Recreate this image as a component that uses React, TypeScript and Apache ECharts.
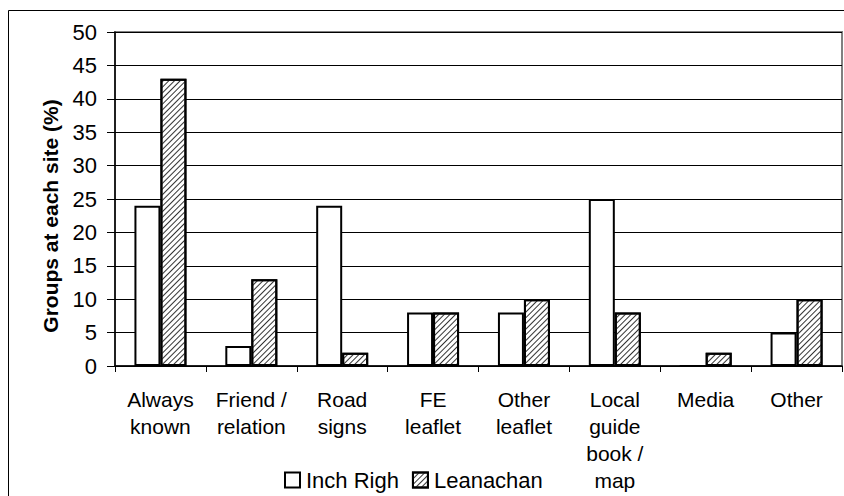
import React, { useEffect, useRef } from "react";
import * as echarts from "echarts";

const categories = [
  "Always\nknown",
  "Friend /\nrelation",
  "Road\nsigns",
  "FE\nleaflet",
  "Other\nleaflet",
  "Local\nguide\nbook /\nmap",
  "Media",
  "Other",
];
const inchRigh = [24, 3, 24, 8, 8, 25, 0, 5];
const leanachan = [43, 13, 2, 8, 10, 8, 2, 10];
const seriesNames = ["Inch Righ", "Leanachan"];
const yTitle = "Groups at each site (%)";

const FONT = "Liberation Sans, Arial, sans-serif";

export default function App() {
  const ref = useRef<HTMLDivElement>(null);
  useEffect(() => {
    if (!ref.current) return;
    const chart = echarts.init(ref.current, null, { renderer: "svg" });
    chart.setOption({
      animation: false,
      backgroundColor: "#ffffff",
      textStyle: { fontFamily: FONT },
      grid: {
        left: 115,
        right: 2,
        top: 32,
        bottom: 130,
        show: true,
        borderColor: "#808080",
        borderWidth: 2,
        containLabel: false,
      },
      legend: {
        left: 284,
        top: 469,
        itemWidth: 15,
        itemHeight: 15,
        itemGap: 13,
        padding: 0,
        icon: "rect",
        textStyle: {
          fontFamily: FONT,
          fontSize: 22,
          lineHeight: 16,
          color: "#000",
          padding: [0, 0, 0, 1],
        },
        data: seriesNames,
      },
      xAxis: {
        type: "category",
        data: categories,
        axisLine: { lineStyle: { color: "#000", width: 1.5 } },
        axisTick: { show: true, length: 6, lineStyle: { color: "#000", width: 1 } },
        axisLabel: {
          fontFamily: FONT,
          fontSize: 21,
          color: "#000",
          lineHeight: 27,
          margin: 20,
          interval: 0,
          align: "center",
        },
      },
      yAxis: {
        type: "value",
        min: 0,
        max: 50,
        interval: 5,
        axisLine: { show: true, lineStyle: { color: "#000", width: 1.5 } },
        axisTick: { show: true, inside: false, length: 8, lineStyle: { color: "#000", width: 1 } },
        axisLabel: { fontFamily: FONT, fontSize: 22, color: "#000", margin: 18 },
        splitLine: { show: true, lineStyle: { color: "#000", width: 1 } },
      },
      graphic: [
        {
          type: "rect",
          shape: { x: 8.5, y: 10.5, width: 900, height: 600 },
          style: { fill: "none", stroke: "#000", lineWidth: 1 },
          silent: true,
        },
        {
          type: "text",
          x: 50,
          y: 216,
          rotation: Math.PI / 2,
          style: {
            text: yTitle,
            font: `bold 21px ${FONT}`,
            fill: "#000",
            align: "center",
            verticalAlign: "middle",
          },
        },
      ],
      series: [
        {
          name: seriesNames[0],
          type: "bar",
          data: inchRigh,
          barWidth: 26,
          barGap: "0%",
          itemStyle: { color: "#ffffff", borderColor: "#000", borderWidth: 2 },
        },
        {
          name: seriesNames[1],
          type: "bar",
          data: leanachan,
          barWidth: 26,
          barGap: "0%",
          itemStyle: {
            color: "#ffffff",
            borderColor: "#000",
            borderWidth: 2,
            decal: {
              symbol: "rect",
              symbolSize: 1,
              dashArrayX: [1, 0],
              dashArrayY: [1, 2.4],
              rotation: -Math.PI / 4,
              color: "#333",
            },
          },
        },
      ],
    });
    return () => chart.dispose();
  }, []);
  return (
    <div
      ref={ref}
      style={{ position: "fixed", left: 0, top: 0, width: 844, height: 496 }}
    />
  );
}
